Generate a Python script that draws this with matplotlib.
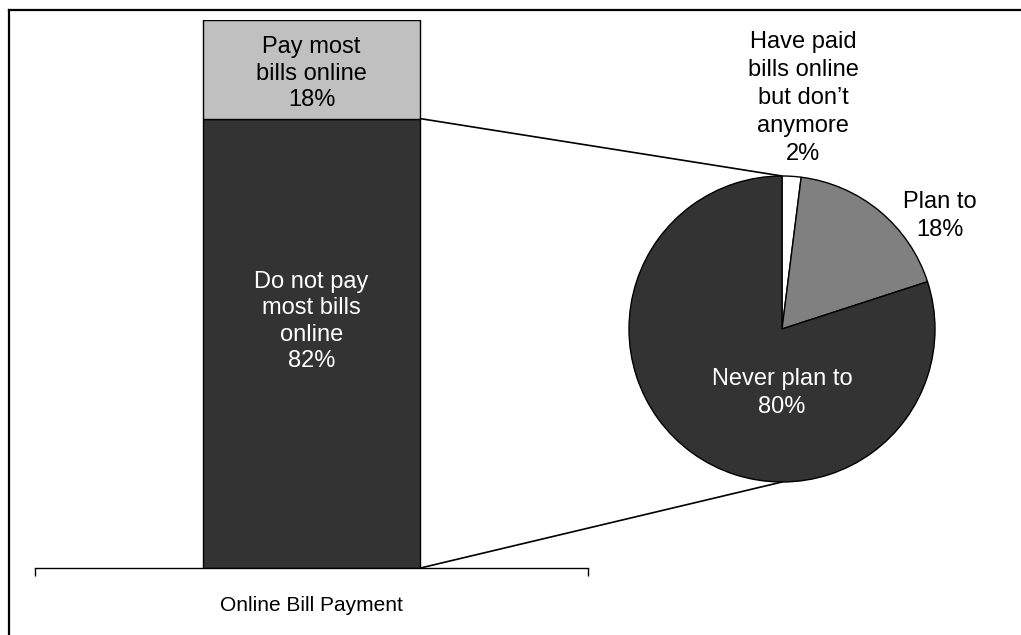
import matplotlib
matplotlib.use("Agg")
import matplotlib.pyplot as plt
from matplotlib.lines import Line2D
from matplotlib.patches import ConnectionPatch

plt.rcParams['font.family'] = ['Liberation Sans', 'DejaVu Sans']

# Online bill payment: stacked bar
bar_category = "Online Bill Payment"
bar_labels = ["Do not pay\nmost bills\nonline", "Pay most\nbills online"]
bar_values = [82, 18]
bar_colors = ["#333333", "#c0c0c0"]
bar_text_colors = ["white", "black"]

# Breakdown of those who do not pay most bills online
pie_labels = ["Have paid\nbills online\nbut don\u2019t\nanymore", "Plan to", "Never plan to"]
pie_values = [2, 18, 80]
pie_colors = ["white", "#808080", "#333333"]
pie_text_colors = ["black", "black", "white"]

W, H = 1021, 635
fig = plt.figure(figsize=(W / 100, H / 100), dpi=100)


def frac(x0, y0, x1, y1):
    """Pixel box (top-left origin) to figure fraction rect."""
    return [x0 / W, 1 - y1 / H, (x1 - x0) / W, (y1 - y0) / H]


# ---- stacked bar ----
axb = fig.add_axes(frac(35, 20, 588, 568))
bar_w = 0.394
bottom = 0
for v, c in zip(bar_values, bar_colors):
    axb.bar(0, v, width=bar_w, bottom=bottom, color=c, edgecolor="black", linewidth=1.0)
    bottom += v
axb.set_xlim(-0.5, 0.5)
axb.set_ylim(0, sum(bar_values))
for s in ("top", "right", "left"):
    axb.spines[s].set_visible(False)
axb.spines["bottom"].set_linewidth(1.0)
axb.set_yticks([])
axb.set_xticks([0])
axb.set_xticklabels([bar_category], fontsize=15)
axb.tick_params(axis="x", which="major", length=0, pad=20)
axb.set_xticks([-0.5, 0.5], minor=True)
axb.tick_params(axis="x", which="minor", length=6, width=1.0, direction="out")
axb.patch.set_alpha(0)

bar_text_y = [45, 90.2]
for lab, v, tc, ty in zip(bar_labels, bar_values, bar_text_colors, bar_text_y):
    axb.text(0, ty, f"{lab}\n{v}%", ha="center", va="center", color=tc,
             fontsize=17, linespacing=1.25)

# ---- pie ----
cx, cy, R = 782, 329, 153
axp = fig.add_axes(frac(cx - R, cy - R, cx + R, cy + R))
axp.pie(pie_values, colors=pie_colors, startangle=90, counterclock=False,
        radius=1, wedgeprops=dict(edgecolor="black", linewidth=1.0))
axp.set_xlim(-1, 1)
axp.set_ylim(-1, 1)
axp.set_aspect("equal")
axp.axis("off")

pie_text_pos = [(0.14, 1.51), (1.03, 0.74), (0.0, -0.42)]
for lab, v, tc, (tx, ty) in zip(pie_labels, pie_values, pie_text_colors, pie_text_pos):
    axp.text(tx, ty, f"{lab}\n{v}%", ha="center", va="center", color=tc,
             fontsize=17, linespacing=1.36, clip_on=False)

# ---- connector lines from the dark segment to the pie ----
for ybar, ypie in ((bar_values[0], 1), (0, -1)):
    con = ConnectionPatch(xyA=(bar_w / 2, ybar), coordsA=axb.transData,
                          xyB=(0, ypie), coordsB=axp.transData,
                          color="black", linewidth=1.2)
    fig.add_artist(con)

# ---- outer frame (left and top edges) ----
fig.add_artist(Line2D([9 / W, 9 / W], [0, 1 - 10 / H], transform=fig.transFigure,
                      color="black", linewidth=1.6))
fig.add_artist(Line2D([9 / W, 1], [1 - 10 / H, 1 - 10 / H], transform=fig.transFigure,
                      color="black", linewidth=1.6))

fig.savefig("out.png", dpi=100, facecolor="white")
